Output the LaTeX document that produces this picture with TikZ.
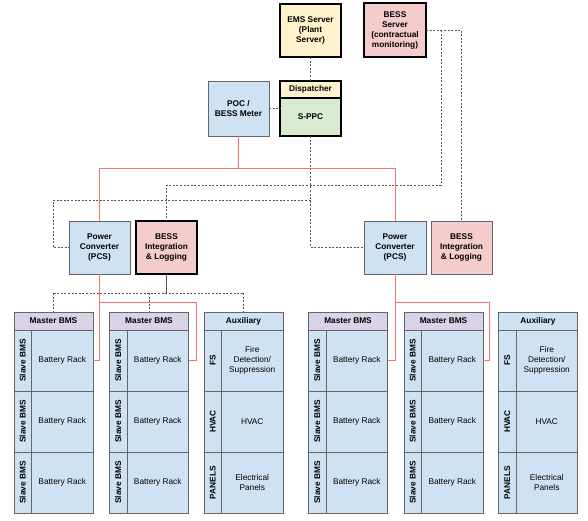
\documentclass[tikz,border=0pt]{standalone}
\usepackage{fontspec}
\setmainfont{Liberation Sans}
\definecolor{blueF}{HTML}{CFE2F3}
\definecolor{pinkF}{HTML}{F4CCCC}
\definecolor{yellowF}{HTML}{FFF2CC}
\definecolor{greenF}{HTML}{D9EAD3}
\definecolor{purpleF}{HTML}{D9D2E9}
\definecolor{borderG}{HTML}{666666}
\definecolor{redL}{HTML}{FF6F6F}
\definecolor{dashG}{HTML}{555555}
\newcommand\unithead[4]{% name, left, fill, text
  \node[boxbase, fill=#3, minimum width=79pt, minimum height=18pt] (#1h) at (#2+39.5,321) {#4};
}
\newcommand\unitrow[5]{% name, left, top, side text, main text
  \node[boxbase, fill=blueF, rotate=90, minimum width=61pt, minimum height=17.5pt] (#1s) at (#2+8.75,#3+30.5) {#4};
  \node[boxbase, fill=blueF, font=\fontsize{8.3}{10}\selectfont, minimum width=61.5pt, minimum height=61pt] (#1m) at (#2+48.25,#3+30.5) {#5};
}
\newcommand\bmsblock[2]{% name, left
  \unithead{#1}{#2}{purpleF}{Master BMS}
  \unitrow{#1r1}{#2}{330}{Slave BMS}{Battery Rack}
  \unitrow{#1r2}{#2}{391}{Slave BMS}{Battery Rack}
  \unitrow{#1r3}{#2}{452}{Slave BMS}{Battery Rack}
}
\newcommand\auxblock[2]{% name, left
  \unithead{#1}{#2}{blueF}{Auxiliary}
  \unitrow{#1r1}{#2}{330}{FS}{Fire\\Detection/\\Suppression}
  \unitrow{#1r2}{#2}{391}{HVAC}{HVAC}
  \unitrow{#1r3}{#2}{452}{PANELS}{Electrical\\Panels}
}
\begin{document}
\begin{tikzpicture}[x=1pt,y=-1pt,
  boxbase/.style={draw=borderG, line width=0.8pt, inner sep=1pt, outer sep=0pt, align=center,
    font=\fontsize{8.3}{10}\selectfont\bfseries, text=black},
  heavy/.style={draw=black, line width=1.4pt},
  dsh/.style={draw=dashG, line width=0.8pt, dash pattern=on 2pt off 1.6pt},
  redline/.style={draw=redL, line width=1pt},
  solidg/.style={draw=dashG, line width=0.8pt}]
\useasboundingbox (0,0) rectangle (588,520);
% top
\node[boxbase, heavy, fill=yellowF, minimum width=61pt, minimum height=53pt] (ems) at (310.5,30.5) {EMS Server\\(Plant\\Server)};
\node[boxbase, heavy, fill=pinkF, minimum width=62pt, minimum height=54pt] (bsrv) at (395,30) {BESS\\Server\\(contractual\\monitoring)};
\node[boxbase, heavy, fill=yellowF, minimum width=61pt, minimum height=17pt] (disp) at (310.5,89.5) {Dispatcher};
\node[boxbase, heavy, fill=greenF, minimum width=61pt, minimum height=38pt] (sppc) at (310.5,117) {S-PPC};
\node[boxbase, fill=blueF, minimum width=61pt, minimum height=55pt] (poc) at (238.5,108.5) {POC /\\BESS Meter};
% middle
\node[boxbase, fill=blueF, minimum width=61pt, minimum height=53pt] (pcs1) at (99.5,247.5) {Power\\Converter\\(PCS)};
\node[boxbase, heavy, fill=pinkF, minimum width=61pt, minimum height=53pt] (bi1) at (166.5,247.5) {BESS\\Integration\\\& Logging};
\node[boxbase, fill=blueF, minimum width=62pt, minimum height=53pt] (pcs2) at (395,247.5) {Power\\Converter\\(PCS)};
\node[boxbase, fill=pinkF, minimum width=61pt, minimum height=53pt] (bi2) at (461.5,247.5) {BESS\\Integration\\\& Logging};
% bottom blocks
\bmsblock{ba}{14}
\bmsblock{bb}{109.5}
\auxblock{aa}{204}
\bmsblock{bc}{308.5}
\bmsblock{bd}{404}
\auxblock{ab}{498.5}
% helper coordinates
\coordinate (y168) at (0,168);
\coordinate (y185) at (0,185);
\coordinate (y200) at (0,200);
\coordinate (y293) at (0,293);
\coordinate (y302) at (0,302);
% dashed control links
\draw[dsh] (ems.south) -- (disp.north);
\draw[dsh] (poc.east) -- (poc.east -| sppc.west);
\draw[dsh] (bsrv.east) -- (bsrv.east -| bi2.north) -- (bi2.north);
\coordinate (bsj) at ([xshift=15pt]bsrv.east);
\draw[dsh] (bsj) -- (bsj |- y185) -- (bi1.north |- y185) -- (bi1.north);
\draw[dsh] (sppc.south) -- (sppc.south |- pcs2.west) -- (pcs2.west);
\coordinate (lj) at (sppc.south |- y200);
\coordinate (pcsl) at ([xshift=-16pt]pcs1.west);
\draw[dsh] (lj) -- (lj -| pcsl) -- (pcsl) -- (pcs1.west);
\draw[solidg] (bi1.south) -- (bi1.south |- y293);
\draw[dsh] (bah.north |- y293) -- (aah.north |- y293);
\draw[dsh] (bah.north |- y293) -- (bah.north);
\draw[dsh] (bbh.north |- y293) -- (bbh.north);
\draw[dsh] (aah.north |- y293) -- (aah.north);
% power lines
\draw[redline] (poc.south) -- (poc.south |- y168);
\draw[redline] (pcs1.north) -- (pcs1.north |- y168) -- (pcs2.north |- y168) -- (pcs2.north);
\draw[redline] (pcs1.south) -- (pcs1.south |- bar1m.east) -- (bar1m.east);
\coordinate (rb) at ([xshift=8pt]bbr1m.east);
\draw[redline] (pcs1.south |- y302) -- (rb |- y302) -- (rb) -- (bbr1m.east);
\draw[redline] (pcs2.south) -- (pcs2.south |- bcr1m.east) -- (bcr1m.east);
\coordinate (rd) at ([xshift=6.5pt]bdr1m.east);
\draw[redline] (pcs2.south |- y302) -- (rd |- y302) -- (rd) -- (bdr1m.east);
\end{tikzpicture}
\end{document}
